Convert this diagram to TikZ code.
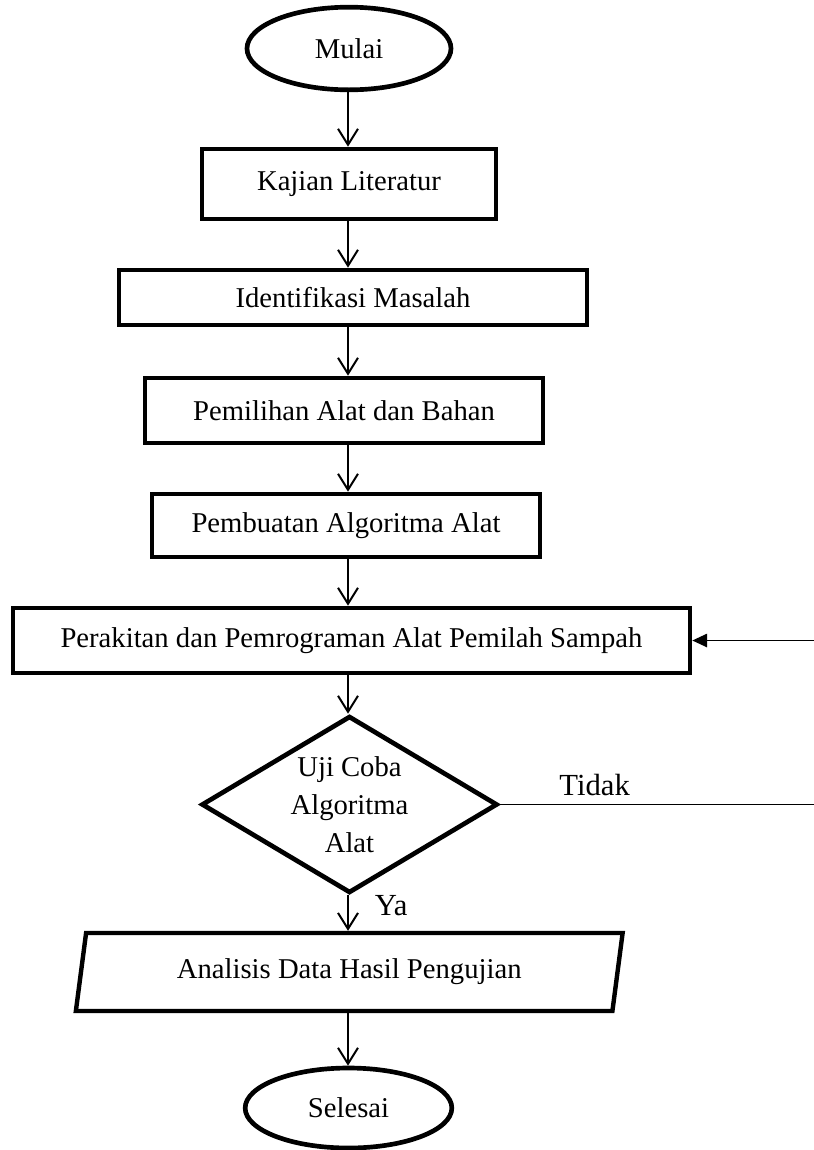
\documentclass[tikz,border=0pt]{standalone}
\usepackage{fontspec}
\setmainfont{Liberation Serif}
\usetikzlibrary{arrows.meta,shapes.geometric,positioning}

\begin{document}
\begin{tikzpicture}[x=0.75pt,y=0.75pt,font=\fontsize{21.5}{28.5}\selectfont,
 proc/.style={rectangle,draw,line width=3.5pt,inner sep=0pt},
 term/.style={ellipse,draw,line width=3.5pt,inner sep=0pt},
 dec/.style={diamond,draw,line width=3.5pt,inner sep=0pt,aspect=1.67,align=center,minimum width=222pt,minimum height=132.75pt},
 io/.style={trapezium,trapezium left angle=75.6,trapezium right angle=104.4,trapezium stretches=true,draw,line width=3.3pt,inner sep=0pt},
 lbl/.style={font=\fontsize{23}{28}\selectfont},
 arr/.style={-{Straight Barb[length=12pt,width=15pt]},line width=1.5pt},
 back/.style={-{Triangle[length=11pt,width=10pt]},line width=1.1pt}]
\useasboundingbox (0,0) rectangle (814,-1150);
\node[term,minimum width=153pt,minimum height=62pt] (mulai) at (349,-48.5) {Mulai};
\node[proc,minimum width=220.5pt,minimum height=52.5pt] (kajian) at (349,-184) {Kajian Literatur};
\node[proc,minimum width=351pt,minimum height=41.25pt] (ident) at (353,-297.5) {Identifikasi Masalah};
\node[proc,minimum width=298.5pt,minimum height=48.75pt] (pilih) at (344,-410.5) {Pemilihan Alat dan Bahan};
\node[proc,minimum width=291pt,minimum height=47.25pt] (algo) at (346,-525.5) {Pembuatan Algoritma Alat};
\node[proc,minimum width=507.75pt,minimum height=48.75pt] (rakit) at (351.5,-640.5) {Perakitan dan Pemrograman Alat Pemilah Sampah};
\node[dec] (uji) at (349.5,-804.5) {Uji Coba\\Algoritma\\Alat};
\node[io,minimum width=411.75pt,minimum height=58.5pt] (analisis) at (349.25,-972) {Analisis Data Hasil Pengujian};
\node[term,minimum width=155pt,minimum height=60pt] (selesai) at (348.5,-1108) {Selesai};
\coordinate (col) at (348,0);
\coordinate (balik) at (816,0);
\draw[arr] (col |- mulai.south) -- (col |- kajian.north);
\draw[arr] (col |- kajian.south) -- (col |- ident.north);
\draw[arr] (col |- ident.south) -- (col |- pilih.north);
\draw[arr] (col |- pilih.south) -- (col |- algo.north);
\draw[arr] (col |- algo.south) -- (col |- rakit.north);
\draw[arr] (col |- rakit.south) -- (col |- uji.north);
\draw[arr] (col |- uji.south) -- node[lbl,pos=0.3,right=16pt]{Ya} (col |- analisis.north);
\draw[arr] (col |- analisis.south) -- (col |- selesai.north);
\draw[back] (uji.east) -- node[lbl,pos=0.3,above=3pt]{Tidak} (uji.east -| balik) |- (rakit.east);
\end{tikzpicture}
\end{document}
